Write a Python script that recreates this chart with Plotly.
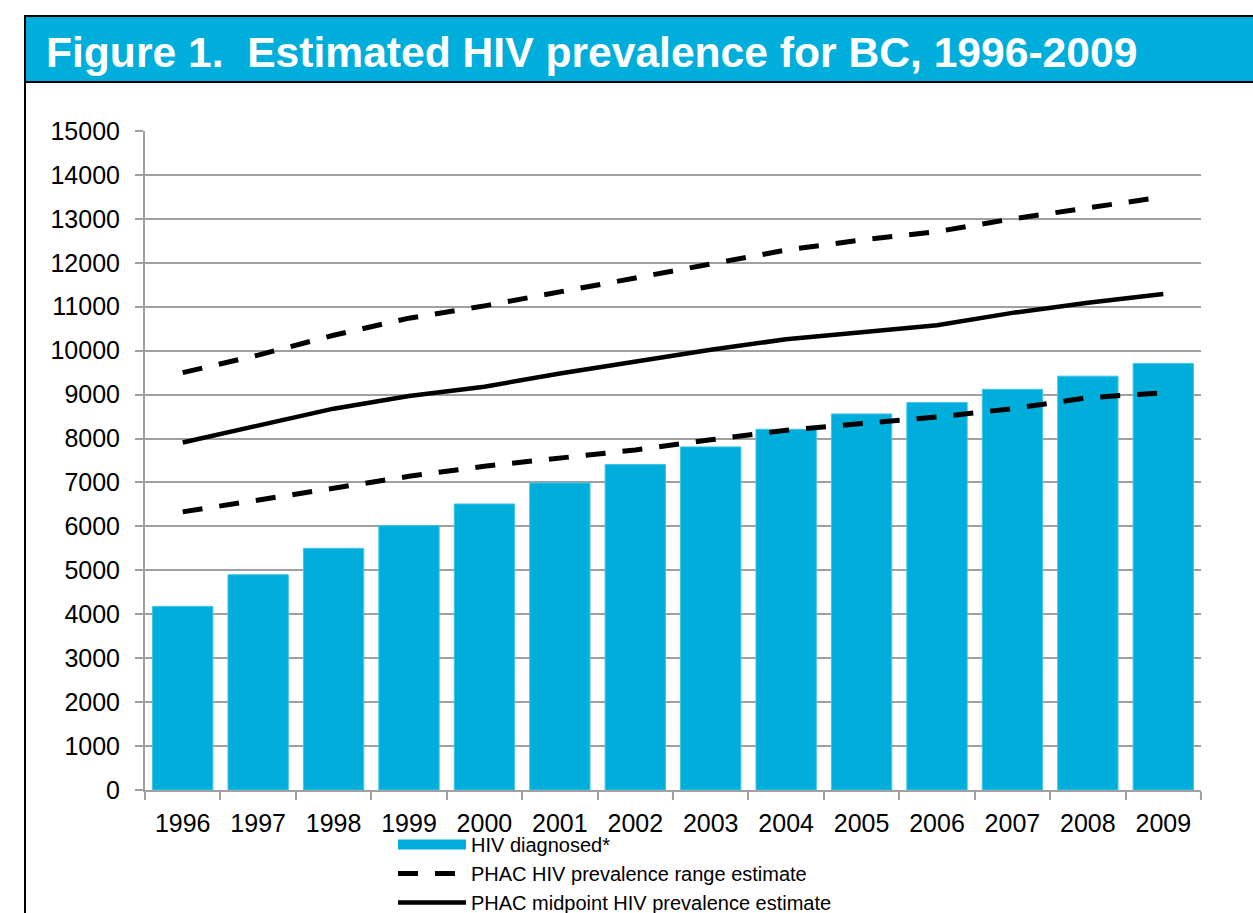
import plotly.graph_objects as go

years = ["1996", "1997", "1998", "1999", "2000", "2001", "2002",
         "2003", "2004", "2005", "2006", "2007", "2008", "2009"]
hiv_diagnosed = [4180, 4900, 5500, 6020, 6510, 6990, 7410,
                 7810, 8210, 8560, 8820, 9120, 9420, 9710]
range_upper = [9500, 9900, 10350, 10740, 11020, 11340, 11640,
               11980, 12290, 12520, 12710, 13000, 13250, 13500]
range_lower = [6330, 6600, 6850, 7140, 7370, 7550, 7740,
               7970, 8190, 8340, 8490, 8680, 8930, 9040]
midpoint = [7910, 8300, 8680, 8970, 9180, 9480, 9750,
            10020, 10260, 10410, 10580, 10860, 11090, 11290]
y_ticks = list(range(0, 15001, 1000))

title_text = "Figure 1.  Estimated HIV prevalence for BC, 1996-2009"

CYAN = "#00AEDB"
FONT = "Liberation Sans, Arial, sans-serif"

fig = go.Figure()
fig.add_trace(go.Bar(
    x=years, y=hiv_diagnosed, name="HIV diagnosed*",
    marker=dict(color=CYAN, line=dict(color="#40C4EA", width=1)),
    width=0.8, showlegend=False, legendgroup="diag",
))
# legend entry for the bars, drawn as a wide cyan rectangle like the original
fig.add_trace(go.Scatter(
    x=[None], y=[None], mode="lines", name="HIV diagnosed*",
    line=dict(color=CYAN, width=12), legendgroup="diag",
))
fig.add_trace(go.Scatter(
    x=years, y=range_upper, mode="lines", name="PHAC HIV prevalence range estimate",
    line=dict(color="black", width=5, dash="20px,17px"), legendgroup="range",
))
fig.add_trace(go.Scatter(
    x=years, y=midpoint, mode="lines", name="PHAC midpoint HIV prevalence estimate",
    line=dict(color="black", width=4.5),
))
fig.add_trace(go.Scatter(
    x=years, y=range_lower, mode="lines", name="PHAC HIV prevalence range estimate",
    line=dict(color="black", width=5, dash="20px,17px"), legendgroup="range",
    showlegend=False,
))

W, H = 1253, 913
L, R, T, B = 145, 52, 131, 123
pw, ph = W - L - R, H - T - B

def px(xp):
    return (xp - L) / pw

def py(yp):
    return (H - B - yp) / ph

shapes = [
    # title bar
    dict(type="rect", xref="paper", yref="paper",
         x0=px(25), x1=px(1270), y0=py(82), y1=py(16),
         fillcolor=CYAN, line=dict(color="black", width=2), layer="above"),
    # left border of frame
    dict(type="line", xref="paper", yref="paper",
         x0=px(25), x1=px(25), y0=py(82), y1=py(930),
         line=dict(color="black", width=2)),
]

fig.update_layout(
    width=W, height=H,
    margin=dict(l=L, r=R, t=T, b=B, autoexpand=False),
    paper_bgcolor="white", plot_bgcolor="white",
    font=dict(family=FONT, color="black", size=25),
    bargap=0.2,
    shapes=shapes,
    annotations=[dict(
        text="<b>" + title_text + "</b>", xref="paper", yref="paper",
        x=px(44), y=py(52), xanchor="left", yanchor="middle",
        showarrow=False, font=dict(family=FONT, size=42.6, color="white"),
    )],
    legend=dict(
        x=px(393), y=py(825), xanchor="left", yanchor="top",
        orientation="v", font=dict(family=FONT, size=20, color="black"),
        bgcolor="rgba(0,0,0,0)", itemwidth=68, tracegroupgap=0,
        traceorder="normal",
    ),
    showlegend=True,
)
fig.update_xaxes(
    type="category", showline=True, linecolor="#A0A0A0", linewidth=2,
    ticks="outside", tickson="boundaries", ticklen=8, tickcolor="#A0A0A0",
    tickwidth=2, showgrid=False, tickfont=dict(size=25), zeroline=False,
    ticklabelstandoff=10,
)
fig.update_yaxes(
    range=[0, 15000], tickvals=y_ticks, ticktext=[str(v) for v in y_ticks],
    showline=True, linecolor="#A0A0A0", linewidth=2,
    ticks="outside", ticklen=8, tickcolor="#A0A0A0", tickwidth=2,
    showgrid=True, gridcolor="#A0A0A0", gridwidth=2, zeroline=False,
    tickfont=dict(size=25), ticklabelstandoff=10,
)

fig.write_html("out.html")
